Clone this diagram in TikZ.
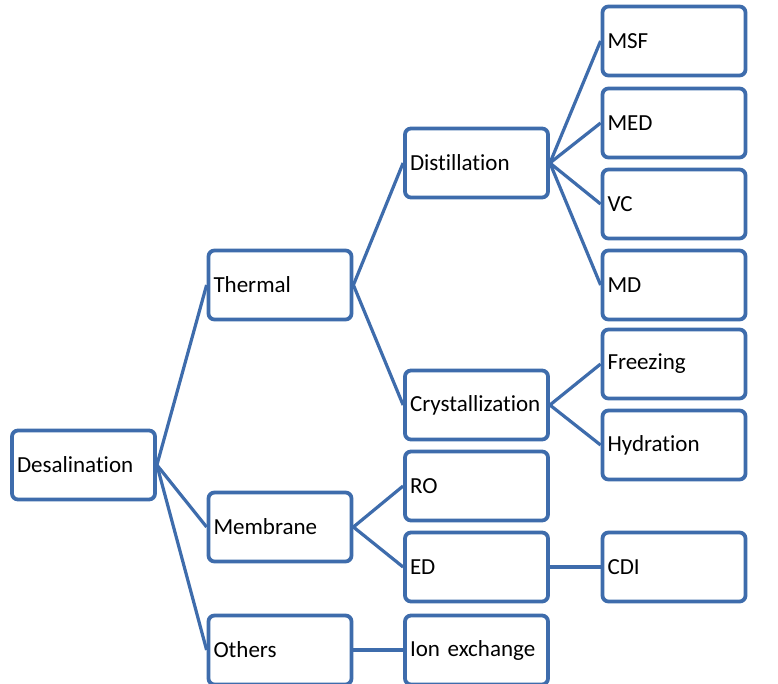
\documentclass[tikz,border=0pt]{standalone}
\usepackage{fontspec}
\setmainfont[Ligatures=NoCommon]{Carlito}
\usepackage{tikz}

\definecolor{boxblue}{RGB}{62,108,172}

\tikzset{
  treebox/.style={draw=boxblue, line width=3.8pt, rounded corners=6pt, fill=white,
    minimum width=143pt, minimum height=69pt, text width=133pt, align=left,
    inner xsep=5pt, font=\fontsize{23}{26}\selectfont},
  treeline/.style={draw=boxblue, line width=3.2pt}
}

\begin{document}
\begin{tikzpicture}[x=1pt, y=-1pt]
        \useasboundingbox [fill=white] (0,0) rectangle (778,683);

        % first and second level
        \node [treebox] (desal)    at (83.5,465) {Desalination};
        \node [treebox] (thermal)  at (280,285)  {Thermal};
        \node [treebox] (membrane) at (280,527)  {Membrane};
        \node [treebox] (others)   at (280,650)  {Others};

        % third level
        \node [treebox] (distill)  at (476.5,163) {Distillation};
        \node [treebox] (cryst)    at (476.5,405) {Crystallization};
        \node [treebox] (ro)       at (476.5,486) {RO};
        \node [treebox] (ed)       at (476.5,567) {ED};
        \node [treebox] (ionex)    at (476.5,650) {Ion exchange};

        % fourth level
        \node [treebox] (msf)      at (674,41)  {MSF};
        \node [treebox] (med)      at (674,123) {MED};
        \node [treebox] (vc)       at (674,204) {VC};
        \node [treebox] (md)       at (674,285) {MD};
        \node [treebox] (freez)    at (674,364) {Freezing};
        \node [treebox] (hydra)    at (674,445) {Hydration};
        \node [treebox] (cdi)      at (674,567) {CDI};

        % connectors
        \foreach \child in {thermal, membrane, others}
          \draw [treeline] (desal.east) -- (\child.west);
        \foreach \child in {distill, cryst}
          \draw [treeline] (thermal.east) -- (\child.west);
        \foreach \child in {msf, med, vc, md}
          \draw [treeline] (distill.east) -- (\child.west);
        \foreach \child in {freez, hydra}
          \draw [treeline] (cryst.east) -- (\child.west);
        \foreach \child in {ro, ed}
          \draw [treeline] (membrane.east) -- (\child.west);
        \draw [treeline] (ed.east) -- (cdi.west);
        \draw [treeline] (others.east) -- (ionex.west);
      \end{tikzpicture}
\end{document}
